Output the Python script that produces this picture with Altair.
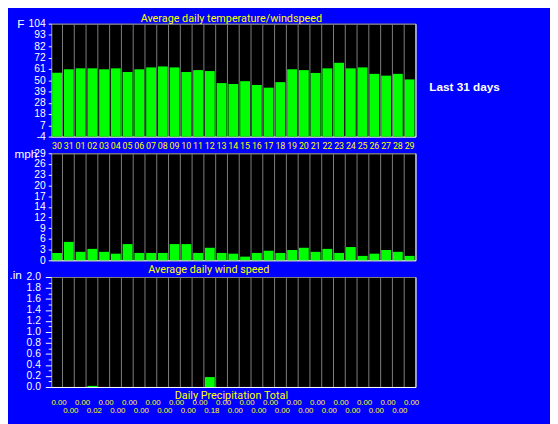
import json
import altair as alt
import pandas as pd

# ---------------- data ----------------
days = ["30", "31", "01", "02", "03", "04", "05", "06", "07", "08", "09", "10",
        "11", "12", "13", "14", "15", "16", "17", "18", "19", "20", "21", "22",
        "23", "24", "25", "26", "27", "28", "29"]
temps = [57.0, 60.4, 61.3, 61.3, 60.4, 61.3, 57.8, 60.4, 62.2, 63.1, 62.2, 57.8,
         59.6, 58.7, 47.2, 46.3, 49.0, 45.4, 42.8, 48.1, 60.4, 59.6, 56.9, 61.3,
         66.6, 61.3, 62.2, 56.0, 54.3, 56.0, 50.7]
winds = [2.0, 5.0, 2.3, 3.1, 2.3, 1.8, 4.4, 2.0, 2.0, 2.0, 4.4, 4.4,
         2.0, 3.4, 2.0, 1.8, 1.0, 2.0, 2.6, 2.0, 2.8, 3.4, 2.3, 3.1,
         2.0, 3.6, 1.2, 1.8, 2.8, 2.3, 1.2]
precip = [0.00, 0.00, 0.00, 0.02, 0.00, 0.00, 0.00, 0.00, 0.00, 0.00, 0.00, 0.00,
          0.00, 0.18, 0.00, 0.00, 0.00, 0.00, 0.00, 0.00, 0.00, 0.00, 0.00, 0.00,
          0.00, 0.00, 0.00, 0.00, 0.00, 0.00, 0.00]
precip_labels = ["%.2f" % v for v in precip]

temp_ticks = [-4, 6.8, 17.6, 28.4, 39.2, 50, 60.8, 71.6, 82.4, 93.2, 104]
temp_tick_labels = ["-4", "7", "18", "28", "39", "50", "61", "72", "82", "93", "104"]
wind_ticks = [0, 2.9, 5.8, 8.7, 11.6, 14.5, 17.4, 20.3, 23.2, 26.1, 29]
wind_tick_labels = ["0", "3", "6", "9", "12", "14", "17", "20", "23", "26", "29"]
precip_ticks = [0.0, 0.2, 0.4, 0.6, 0.8, 1.0, 1.2, 1.4, 1.6, 1.8, 2.0]
precip_minor_ticks = [0.1, 0.3, 0.5, 0.7, 0.9, 1.1, 1.3, 1.5, 1.7, 1.9]

title_temp = "Average daily temperature/windspeed"
title_wind = "Average daily wind speed"
title_precip = "Daily Precipitation Total"
side_label = "Last 31 days"
unit_temp, unit_wind, unit_precip = "F", "mph", ".in"

df = pd.DataFrame({"day": days, "temp": temps, "wind": winds, "precip": precip})
side_df = pd.DataFrame({"label": [side_label]})

# ---------------- styles ----------------
BLUE = "#0000ff"
GREEN = "#00ff00"
YELLOW = "#ffff00"
GRAY = "#808080"
WHITE = "#ffffff"
TFONT = "Roboto, Liberation Sans, sans-serif"
SANS = "Liberation Sans, Arial, sans-serif"
W = 371
days_js = json.dumps(days)


def x_axis(**kw):
    base = dict(bandPosition=0, grid=True, gridColor=GRAY, gridWidth=1, ticks=False,
                domainColor=WHITE, domainWidth=1, labelOffset=0, labelAngle=0,
                labelOverlap=False, title=None)
    base.update(kw)
    return alt.Axis(**base)


def top_axis(title=None, **kw):
    base = dict(orient="top", labels=False, ticks=False, grid=False, domainColor=GRAY,
                domainWidth=1, title=title)
    if title:
        base.update(titleX=183, titleY=-2, titleAlign="center", titleBaseline="alphabetic",
                    titleColor=YELLOW, titleFont=TFONT, titleFontSize=11,
                    titleFontWeight="normal")
    base.update(kw)
    return alt.Axis(**base)


def y_axis(title, tx, ty, **kw):
    base = dict(grid=False, domain=False, tickColor=WHITE, tickSize=3, tickWidth=1,
                labelPadding=3, labelColor=WHITE, labelFont=SANS, labelFontSize=10.5,
                labelOverlap=False, title=title, titleAngle=0, titleX=tx, titleY=ty,
                titleAlign="left", titleBaseline="alphabetic", titleColor=WHITE,
                titleFont=SANS, titleFontSize=12, titleFontWeight="normal")
    base.update(kw)
    return alt.Axis(**base)


right_axis = alt.Axis(orient="right", labels=False, ticks=False, grid=False,
                      domainColor=WHITE, domainWidth=1, title=None)

xscale = alt.Scale(paddingInner=0, paddingOuter=0)

# ---------------- top: temperature ----------------
x_top = alt.X("day:N", sort=None, scale=xscale,
              axis=x_axis(labelColor=YELLOW, labelFont=TFONT, labelFontSize=9,
                          labelPadding=5))
temp_scale = alt.Scale(domain=[-4, 104], nice=False, zero=False)
temp_expr = f"{json.dumps(temp_tick_labels)}[indexof({json.dumps(temp_ticks)}, datum.value)]"
base_top = alt.Chart(df)
top_bars = base_top.mark_bar(color=GREEN, width=10).encode(
    x=x_top,
    y=alt.Y("temp:Q", scale=temp_scale,
            axis=y_axis(unit_temp, -35, 4, values=temp_ticks, labelExpr=temp_expr)),
    y2=alt.datum(-4),
)
top_frame = base_top.mark_bar(opacity=0, width=10).encode(
    x=alt.X("day:N", sort=None, axis=top_axis(title_temp)),
    y=alt.Y("temp:Q", axis=right_axis), y2=alt.datum(-4))
top_side = alt.Chart(side_df).mark_text(
    align="left", baseline="alphabetic", color=WHITE, font=SANS, fontSize=12,
    fontWeight="bold").encode(text="label:N", x=alt.value(385), y=alt.value(69))
top = alt.layer(top_bars, top_frame, top_side).resolve_axis(
    x="independent", y="independent").properties(width=W, height=115)

# ---------------- middle: wind ----------------
x_mid = alt.X("day:N", sort=None, scale=xscale,
              axis=x_axis(labels=False, title=title_wind, titleX=160, titleY=12.5,
                          titleAlign="center", titleBaseline="alphabetic",
                          titleColor=YELLOW, titleFont=TFONT, titleFontSize=11,
                          titleFontWeight="normal"))
wind_scale = alt.Scale(domain=[0, 29], nice=False)
wind_expr = f"{json.dumps(wind_tick_labels)}[indexof({json.dumps(wind_ticks)}, datum.value)]"
base_mid = alt.Chart(df)
mid_bars = base_mid.mark_bar(color=GREEN, width=10).encode(
    x=x_mid,
    y=alt.Y("wind:Q", scale=wind_scale,
            axis=y_axis(unit_wind, -38, 4, values=wind_ticks, labelExpr=wind_expr)),
)
mid_frame = base_mid.mark_bar(opacity=0, width=10).encode(
    x=alt.X("day:N", sort=None, axis=top_axis()),
    y=alt.Y("wind:Q", axis=right_axis))
mid = alt.layer(mid_bars, mid_frame).resolve_axis(
    x="independent", y="independent").properties(width=W, height=109)

# ---------------- bottom: precipitation ----------------
plab_expr = f"{json.dumps(precip_labels)}[indexof({days_js}, datum.value)]"
x_bot = alt.X("day:N", sort=None, scale=xscale,
              axis=x_axis(labelColor=YELLOW, labelFont=SANS, labelFontSize=8,
                          labelOffset=2, labelExpr=plab_expr, labelBaseline="top",
                          labelPadding={"condition": {"test": f"indexof({days_js}, datum.value) % 2 == 1",
                                                      "value": 20}, "value": 12},
                          title=title_precip, titleX=183, titleY=12,
                          titleAlign="center", titleBaseline="alphabetic",
                          titleColor=YELLOW, titleFont=TFONT, titleFontSize=11,
                          titleFontWeight="normal"))
precip_scale = alt.Scale(domain=[0, 2.0], nice=False)
all_precip_ticks = sorted(precip_ticks + precip_minor_ticks)
major_js = json.dumps(precip_ticks)
precip_expr = f"indexof({major_js}, datum.value) >= 0 ? format(datum.value, '.1f') : ''"
base_bot = alt.Chart(df)
bot_bars = base_bot.mark_bar(color=GREEN, width=10).encode(
    x=x_bot,
    y=alt.Y("precip:Q", scale=precip_scale,
            axis=y_axis(unit_precip, -43, 2, values=all_precip_ticks, labelExpr=precip_expr,
                        labelPadding=5,
                        tickSize={"condition": {"test": f"indexof({major_js}, datum.value) < 0",
                                                "value": 3}, "value": 6})),
)
bot_frame = base_bot.mark_bar(opacity=0, width=10).encode(
    x=alt.X("day:N", sort=None, axis=top_axis()),
    y=alt.Y("precip:Q", axis=right_axis))
bot = alt.layer(bot_bars, bot_frame).resolve_axis(
    x="independent", y="independent").properties(width=W, height=112)

chart = alt.vconcat(top, mid, bot, spacing=17, bounds="flush").properties(
    background=BLUE,
    padding={"left": 0, "top": 0, "right": 50, "bottom": 20},
).configure_view(fill="#000000", stroke=GRAY, strokeWidth=1)

chart.save("out.html", embed_options={"renderer": "svg", "actions": False})
